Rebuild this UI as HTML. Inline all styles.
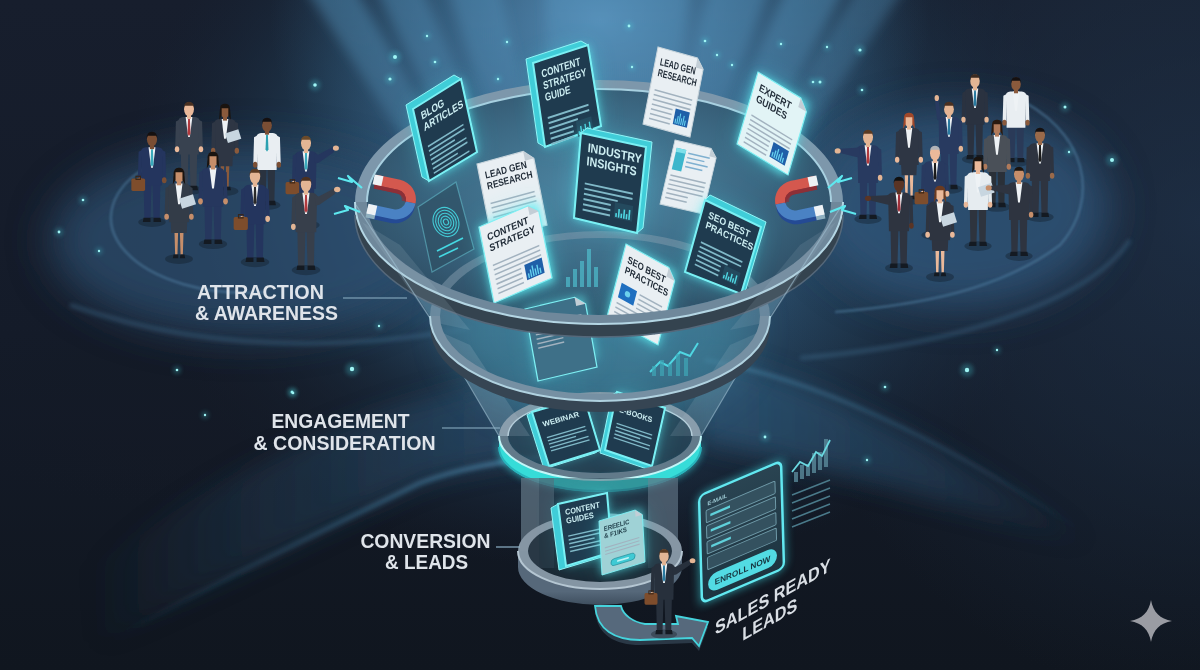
<!DOCTYPE html>
<html><head><meta charset="utf-8">
<style>
html,body{margin:0;padding:0;background:#141d2a;}
body{width:1200px;height:670px;overflow:hidden;position:relative;font-family:"Liberation Sans",sans-serif;}
svg{position:absolute;left:0;top:0;display:block;}
</style></head>
<body>
<svg width="1200" height="670" viewBox="0 0 1200 670" font-family="Liberation Sans">
<defs>
  <radialGradient id="bgGlow" cx="600" cy="190" r="560" gradientUnits="userSpaceOnUse" gradientTransform="translate(600 190) scale(1 0.8) translate(-600 -190)">
    <stop offset="0" stop-color="#437699"/>
    <stop offset="0.3" stop-color="#2e5474"/>
    <stop offset="0.55" stop-color="#1e354b"/>
    <stop offset="0.85" stop-color="#172334" stop-opacity="0"/>
  </radialGradient>
  <linearGradient id="bgBase" x1="0" y1="0" x2="0" y2="1">
    <stop offset="0" stop-color="#171e2d"/>
    <stop offset="0.5" stop-color="#141b29"/>
    <stop offset="1" stop-color="#10161f"/>
  </linearGradient>
  <radialGradient id="topGlow" cx="600" cy="20" r="330" gradientUnits="userSpaceOnUse" gradientTransform="translate(600 20) scale(1 0.75) translate(-600 -20)">
    <stop offset="0" stop-color="#5b95bf" stop-opacity="0.85"/>
    <stop offset="0.45" stop-color="#4a80a8" stop-opacity="0.5"/>
    <stop offset="1" stop-color="#3a6a90" stop-opacity="0"/>
  </radialGradient>
  <linearGradient id="rayG" x1="0" y1="0" x2="0" y2="1">
    <stop offset="0" stop-color="#5aa0cc" stop-opacity="0.6"/>
    <stop offset="0.6" stop-color="#5a8fb0" stop-opacity="0.25"/>
    <stop offset="1" stop-color="#5a8fb0" stop-opacity="0"/>
  </linearGradient>
  <radialGradient id="bowl" cx="0.5" cy="0.45" r="0.6">
    <stop offset="0" stop-color="#4f8aa6"/>
    <stop offset="0.55" stop-color="#3d6a84"/>
    <stop offset="1" stop-color="#2e4c62"/>
  </radialGradient>
  <linearGradient id="cone" x1="0" y1="0" x2="1" y2="0">
    <stop offset="0" stop-color="#7a8c9c" stop-opacity="0.55"/>
    <stop offset="0.2" stop-color="#3d5468" stop-opacity="0.35"/>
    <stop offset="0.8" stop-color="#3d5468" stop-opacity="0.35"/>
    <stop offset="1" stop-color="#7a8c9c" stop-opacity="0.55"/>
  </linearGradient>
  <filter id="blur30" x="-50%" y="-50%" width="200%" height="200%"><feGaussianBlur stdDeviation="30"/></filter>
  <filter id="blur20" x="-50%" y="-50%" width="200%" height="200%"><feGaussianBlur stdDeviation="20"/></filter>
  <filter id="blur12" x="-50%" y="-50%" width="200%" height="200%"><feGaussianBlur stdDeviation="12"/></filter>
  <filter id="blur8" x="-50%" y="-50%" width="200%" height="200%"><feGaussianBlur stdDeviation="6"/></filter>
  <filter id="blur4" x="-50%" y="-50%" width="200%" height="200%"><feGaussianBlur stdDeviation="4"/></filter>
  <filter id="blur2" x="-50%" y="-50%" width="200%" height="200%"><feGaussianBlur stdDeviation="2"/></filter>
  <filter id="blur1" x="-50%" y="-50%" width="200%" height="200%"><feGaussianBlur stdDeviation="1"/></filter>
  <linearGradient id="tealFace" x1="0" y1="0" x2="0" y2="1" gradientUnits="objectBoundingBox">
    <stop offset="0.8" stop-color="#4ae0e6"/>
    <stop offset="1" stop-color="#30b8c4"/>
  </linearGradient>
  <linearGradient id="grayFace" x1="0" y1="0" x2="0" y2="1">
    <stop offset="0.75" stop-color="#56687a"/>
    <stop offset="1" stop-color="#3e4e5e"/>
  </linearGradient>
  <linearGradient id="edgeG" x1="120" y1="0" x2="560" y2="0" gradientUnits="userSpaceOnUse">
    <stop offset="0" stop-color="#3b6c8c" stop-opacity="0"/>
    <stop offset="0.5" stop-color="#3b6c8c" stop-opacity="0.5"/>
    <stop offset="1" stop-color="#4a80a2" stop-opacity="0.9"/>
  </linearGradient>
  <linearGradient id="swG" x1="90" y1="0" x2="565" y2="0" gradientUnits="userSpaceOnUse">
    <stop offset="0" stop-color="#284a66" stop-opacity="0"/>
    <stop offset="0.4" stop-color="#284a66" stop-opacity="0.35"/>
    <stop offset="1" stop-color="#2c5272" stop-opacity="0.7"/>
  </linearGradient>
  <linearGradient id="formG" x1="0" y1="0" x2="0" y2="1">
    <stop offset="0" stop-color="#2a4452"/>
    <stop offset="1" stop-color="#1d3440"/>
  </linearGradient>
  <linearGradient id="coneG" x1="0" y1="0" x2="0" y2="1">
    <stop offset="0" stop-color="#4b7a96" stop-opacity="0.7"/>
    <stop offset="0.6" stop-color="#3a6a84" stop-opacity="0.6"/>
    <stop offset="1" stop-color="#2e5068" stop-opacity="0.55"/>
  </linearGradient>
  <linearGradient id="swR" x1="700" y1="0" x2="1095" y2="0" gradientUnits="userSpaceOnUse">
    <stop offset="0" stop-color="#2e5878" stop-opacity="0.75"/>
    <stop offset="0.6" stop-color="#2a5070" stop-opacity="0.45"/>
    <stop offset="1" stop-color="#284a66" stop-opacity="0"/>
  </linearGradient>
  <linearGradient id="edgeR" x1="705" y1="0" x2="1080" y2="0" gradientUnits="userSpaceOnUse">
    <stop offset="0" stop-color="#4a86a8" stop-opacity="0.8"/>
    <stop offset="0.7" stop-color="#3b6c8c" stop-opacity="0.4"/>
    <stop offset="1" stop-color="#3b6c8c" stop-opacity="0"/>
  </linearGradient>
  <radialGradient id="rightGlow" cx="1200" cy="220" r="480" gradientUnits="userSpaceOnUse" gradientTransform="translate(1200 220) scale(0.9 1) translate(-1200 -220)">
    <stop offset="0" stop-color="#223852" stop-opacity="0.6"/>
    <stop offset="0.5" stop-color="#1f3248" stop-opacity="0.4"/>
    <stop offset="1" stop-color="#1c2e44" stop-opacity="0"/>
  </radialGradient>
  <radialGradient id="darkG" cx="0.5" cy="0.5" r="0.5">
    <stop offset="0" stop-color="#141a26" stop-opacity="0.7"/>
    <stop offset="0.6" stop-color="#141a26" stop-opacity="0.4"/>
    <stop offset="1" stop-color="#141a26" stop-opacity="0"/>
  </radialGradient>
</defs>

<rect width="1200" height="670" fill="url(#bgBase)"/>
<rect width="1200" height="670" fill="url(#bgGlow)"/>
<rect width="1200" height="670" fill="url(#rightGlow)"/>
<rect width="1200" height="400" fill="url(#topGlow)"/>
<ellipse cx="230" cy="405" rx="300" ry="110" fill="url(#darkG)"/>
<g filter="url(#blur8)"><polygon points="300,-20 350,-20 608,430 592,430" fill="url(#rayG)" opacity="0.7"/><polygon points="372,-20 418,-20 608,430 592,430" fill="url(#rayG)" opacity="0.6"/><polygon points="445,-20 497,-20 608,430 592,430" fill="url(#rayG)" opacity="0.55"/><polygon points="545,-20 690,-20 645,430 555,430" fill="url(#rayG)" opacity="0.6"/><polygon points="712,-20 772,-20 608,430 592,430" fill="url(#rayG)" opacity="0.6"/><polygon points="790,-20 850,-20 608,430 592,430" fill="url(#rayG)" opacity="0.7"/><polygon points="862,-20 910,-20 608,430 592,430" fill="url(#rayG)" opacity="0.55"/></g>
<g filter="url(#blur20)"><ellipse cx="245" cy="240" rx="195" ry="95" fill="#2d5070" opacity="0.75"/><ellipse cx="960" cy="208" rx="150" ry="100" fill="#30557a" opacity="0.8"/></g>
<g fill="none" stroke="#5a8cb0" stroke-width="2.5" opacity="0.45" filter="url(#blur1)"><path d="M150 165 A135 75 0 0 0 265 292"/><path d="M1010 95 C1090 130 1100 200 1060 245 C1000 290 920 305 835 312"/></g>
<g fill="none" stroke="#4f82a6" stroke-width="4" opacity="0.35" filter="url(#blur2)"><path d="M70 305 Q250 368 470 328"/><path d="M1130 240 C1090 300 960 345 800 358"/></g>
<g filter="url(#blur12)" fill="none"></g>
<path d="M100 645 C220 580 330 527 420 483 C470 466 520 458 565 455 L565 370 C420 390 260 440 90 570 Z" fill="url(#swG)" filter="url(#blur12)"/>
<path d="M700 355 C800 375 920 430 1095 545 C1000 520 880 480 700 440 Z" fill="url(#swR)" filter="url(#blur12)"/>
<path d="M705 360 C810 378 930 432 1080 530" fill="none" stroke="url(#edgeR)" stroke-width="3" filter="url(#blur2)"/>
<path d="M110 640 C220 580 330 527 420 483 C460 468 500 461 560 455" fill="none" stroke="url(#edgeG)" stroke-width="5" filter="url(#blur2)"/>
<circle cx="395" cy="57" r="6" fill="#4fe0e8" opacity="0.25" filter="url(#blur2)"/><circle cx="395" cy="57" r="2" fill="#9ff5f5"/>
<circle cx="315" cy="85" r="5.4" fill="#4fe0e8" opacity="0.25" filter="url(#blur2)"/><circle cx="315" cy="85" r="1.8" fill="#9ff5f5"/>
<circle cx="390" cy="79" r="4.800000000000001" fill="#4fe0e8" opacity="0.25" filter="url(#blur2)"/><circle cx="390" cy="79" r="1.6" fill="#9ff5f5"/>
<circle cx="352" cy="369" r="6.6000000000000005" fill="#4fe0e8" opacity="0.25" filter="url(#blur2)"/><circle cx="352" cy="369" r="2.2" fill="#9ff5f5"/>
<circle cx="967" cy="370" r="6.6000000000000005" fill="#4fe0e8" opacity="0.25" filter="url(#blur2)"/><circle cx="967" cy="370" r="2.2" fill="#9ff5f5"/>
<circle cx="1112" cy="160" r="6" fill="#4fe0e8" opacity="0.25" filter="url(#blur2)"/><circle cx="1112" cy="160" r="2" fill="#9ff5f5"/>
<circle cx="1065" cy="107" r="4.5" fill="#4fe0e8" opacity="0.25" filter="url(#blur2)"/><circle cx="1065" cy="107" r="1.5" fill="#9ff5f5"/>
<circle cx="860" cy="50" r="4.800000000000001" fill="#4fe0e8" opacity="0.25" filter="url(#blur2)"/><circle cx="860" cy="50" r="1.6" fill="#9ff5f5"/>
<circle cx="820" cy="82" r="4.5" fill="#4fe0e8" opacity="0.25" filter="url(#blur2)"/><circle cx="820" cy="82" r="1.5" fill="#9ff5f5"/>
<circle cx="83" cy="200" r="3.9000000000000004" fill="#4fe0e8" opacity="0.25" filter="url(#blur2)"/><circle cx="83" cy="200" r="1.3" fill="#9ff5f5"/>
<circle cx="59" cy="232" r="4.199999999999999" fill="#4fe0e8" opacity="0.25" filter="url(#blur2)"/><circle cx="59" cy="232" r="1.4" fill="#9ff5f5"/>
<circle cx="99" cy="251" r="3.5999999999999996" fill="#4fe0e8" opacity="0.25" filter="url(#blur2)"/><circle cx="99" cy="251" r="1.2" fill="#9ff5f5"/>
<circle cx="139" cy="181" r="3.3000000000000003" fill="#4fe0e8" opacity="0.25" filter="url(#blur2)"/><circle cx="139" cy="181" r="1.1" fill="#9ff5f5"/>
<circle cx="427" cy="36" r="3.5999999999999996" fill="#4fe0e8" opacity="0.25" filter="url(#blur2)"/><circle cx="427" cy="36" r="1.2" fill="#9ff5f5"/>
<circle cx="435" cy="62" r="3.9000000000000004" fill="#4fe0e8" opacity="0.25" filter="url(#blur2)"/><circle cx="435" cy="62" r="1.3" fill="#9ff5f5"/>
<circle cx="507" cy="42" r="3.5999999999999996" fill="#4fe0e8" opacity="0.25" filter="url(#blur2)"/><circle cx="507" cy="42" r="1.2" fill="#9ff5f5"/>
<circle cx="498" cy="79" r="3.5999999999999996" fill="#4fe0e8" opacity="0.25" filter="url(#blur2)"/><circle cx="498" cy="79" r="1.2" fill="#9ff5f5"/>
<circle cx="629" cy="26" r="4.199999999999999" fill="#4fe0e8" opacity="0.25" filter="url(#blur2)"/><circle cx="629" cy="26" r="1.4" fill="#9ff5f5"/>
<circle cx="705" cy="41" r="3.9000000000000004" fill="#4fe0e8" opacity="0.25" filter="url(#blur2)"/><circle cx="705" cy="41" r="1.3" fill="#9ff5f5"/>
<circle cx="717" cy="55" r="3.5999999999999996" fill="#4fe0e8" opacity="0.25" filter="url(#blur2)"/><circle cx="717" cy="55" r="1.2" fill="#9ff5f5"/>
<circle cx="781" cy="44" r="3.5999999999999996" fill="#4fe0e8" opacity="0.25" filter="url(#blur2)"/><circle cx="781" cy="44" r="1.2" fill="#9ff5f5"/>
<circle cx="813" cy="82" r="3.9000000000000004" fill="#4fe0e8" opacity="0.25" filter="url(#blur2)"/><circle cx="813" cy="82" r="1.3" fill="#9ff5f5"/>
<circle cx="827" cy="47" r="3.5999999999999996" fill="#4fe0e8" opacity="0.25" filter="url(#blur2)"/><circle cx="827" cy="47" r="1.2" fill="#9ff5f5"/>
<circle cx="862" cy="90" r="3.9000000000000004" fill="#4fe0e8" opacity="0.25" filter="url(#blur2)"/><circle cx="862" cy="90" r="1.3" fill="#9ff5f5"/>
<circle cx="632" cy="67" r="3.5999999999999996" fill="#4fe0e8" opacity="0.25" filter="url(#blur2)"/><circle cx="632" cy="67" r="1.2" fill="#9ff5f5"/>
<circle cx="732" cy="65" r="3.5999999999999996" fill="#4fe0e8" opacity="0.25" filter="url(#blur2)"/><circle cx="732" cy="65" r="1.2" fill="#9ff5f5"/>
<circle cx="1069" cy="152" r="3.5999999999999996" fill="#4fe0e8" opacity="0.25" filter="url(#blur2)"/><circle cx="1069" cy="152" r="1.2" fill="#9ff5f5"/>
<circle cx="177" cy="370" r="3.9000000000000004" fill="#4fe0e8" opacity="0.25" filter="url(#blur2)"/><circle cx="177" cy="370" r="1.3" fill="#9ff5f5"/>
<circle cx="292" cy="392" r="4.5" fill="#4fe0e8" opacity="0.25" filter="url(#blur2)"/><circle cx="292" cy="392" r="1.5" fill="#9ff5f5"/>
<circle cx="205" cy="415" r="3.5999999999999996" fill="#4fe0e8" opacity="0.25" filter="url(#blur2)"/><circle cx="205" cy="415" r="1.2" fill="#9ff5f5"/>
<circle cx="885" cy="387" r="3.9000000000000004" fill="#4fe0e8" opacity="0.25" filter="url(#blur2)"/><circle cx="885" cy="387" r="1.3" fill="#9ff5f5"/>
<circle cx="997" cy="350" r="3.5999999999999996" fill="#4fe0e8" opacity="0.25" filter="url(#blur2)"/><circle cx="997" cy="350" r="1.2" fill="#9ff5f5"/>
<circle cx="765" cy="437" r="4.199999999999999" fill="#4fe0e8" opacity="0.25" filter="url(#blur2)"/><circle cx="765" cy="437" r="1.4" fill="#9ff5f5"/>
<circle cx="867" cy="460" r="3.5999999999999996" fill="#4fe0e8" opacity="0.25" filter="url(#blur2)"/><circle cx="867" cy="460" r="1.2" fill="#9ff5f5"/>
<circle cx="379" cy="326" r="3.5999999999999996" fill="#4fe0e8" opacity="0.25" filter="url(#blur2)"/><circle cx="379" cy="326" r="1.2" fill="#9ff5f5"/>
<circle cx="293" cy="393" r="3.9000000000000004" fill="#4fe0e8" opacity="0.25" filter="url(#blur2)"/><circle cx="293" cy="393" r="1.3" fill="#9ff5f5"/>
<path d="M355 202 L430 316 L499 436 A101 44 0 0 0 701 436 L770 316 L843 202 A244 122 0 0 1 355 202 Z" fill="url(#coneG)"/>
<ellipse cx="600" cy="330" rx="150" ry="90" fill="#4aa0b8" opacity="0.35" filter="url(#blur20)"/>
<ellipse cx="599" cy="202" rx="232" ry="113" fill="url(#bowl)" opacity="0.92"/>
<path d="M430 316 A170 85 0 0 1 770 316 L760 316 A160 78 0 0 0 440 316 Z" fill="#7f98aa" opacity="0.55"/>
<ellipse cx="600" cy="436" rx="92" ry="37" fill="#26404f" opacity="0.6"/>
<path d="M499 436 A101 44 0 0 1 701 436 L692 436 A92 37 0 0 0 508 436 Z" fill="#8397a6" />
<path d="M508 436 A92 37 0 0 1 692 436" fill="none" stroke="#b8d0dc" stroke-width="1.5" />
<path d="M355 202 A244 122 0 0 1 843 202 L831 202 A232 113 0 0 0 367 202 Z" fill="#7d97ab" />
<path d="M367 202 A232 113 0 0 1 831 202" fill="none" stroke="#a8d0e0" stroke-width="2" />
<polygon points="525.0,309.0 584.0,295.0 597.0,358.0 538.0,381.0" fill="#3fe0ea" opacity="0.25" filter="url(#blur12)"/><polygon points="525.0,309.0 584.0,295.0 597.0,358.0 538.0,381.0" fill="#5ff0f4" opacity="0.5" filter="url(#blur4)"/><g transform="matrix(0.5900 -0.1400 0.1000 0.5538 525.00 309.00)"><path d="M0 0 L84 0 L100 16 L100 130 L0 130 Z" fill="#3e7088" stroke="#7ff0f4" stroke-width="2"/><path d="M84 0 L84 16 L100 16 Z" fill="#c3ced6"/><rect x="10" y="32.0" width="80" height="2.6" fill="#a2b2bf"/><rect x="10" y="40.0" width="80" height="2.6" fill="#a2b2bf"/><rect x="10" y="48.0" width="80" height="2.6" fill="#a2b2bf"/><rect x="10" y="56.0" width="44" height="2.6" fill="#a2b2bf"/><rect x="10" y="64.0" width="44" height="2.6" fill="#a2b2bf"/><rect x="10" y="72.0" width="44" height="2.6" fill="#a2b2bf"/></g>
<polyline points="650,372 660,362 668,366 680,352 690,356 698,343" fill="none" stroke="#4fd6e2" stroke-width="2"/>
<rect x="652" y="366" width="4" height="10" fill="#3fa8b8" opacity="0.7"/><rect x="660" y="360" width="4" height="16" fill="#3fa8b8" opacity="0.7"/><rect x="668" y="364" width="4" height="12" fill="#3fa8b8" opacity="0.7"/><rect x="676" y="354" width="4" height="22" fill="#3fa8b8" opacity="0.7"/><rect x="684" y="358" width="4" height="18" fill="#3fa8b8" opacity="0.7"/>
<polygon points="532.0,412.0 584.0,397.0 600.0,450.0 549.0,466.0" fill="#3fe0ea" opacity="0.175" filter="url(#blur12)"/><polygon points="532.0,412.0 584.0,397.0 600.0,450.0 549.0,466.0" fill="#5ff0f4" opacity="0.35" filter="url(#blur4)"/><polygon points="527.0,415.0 532.0,412.0 584.0,397.0 600.0,450.0 595.0,453.0 544.0,469.0" fill="#40cdd8" stroke="#8ff4f6" stroke-width="1"/><polygon points="532.0,412.0 584.0,397.0 600.0,450.0 549.0,466.0" fill="#1f3b4f" stroke="#7af0f4" stroke-width="2"/><g transform="matrix(0.5200 -0.1500 0.1308 0.4154 532.00 412.00)"><text transform="translate(12 40.0) scale(0.86 1)" font-size="17" font-weight="bold" fill="#cdeef2" font-family="Liberation Sans">WEBINAR</text><rect x="12" y="64.4" width="74" height="3" fill="#80b9c8"/><rect x="12" y="72.4" width="74" height="3" fill="#80b9c8"/><rect x="12" y="80.4" width="52" height="3" fill="#80b9c8"/><rect x="12" y="88.4" width="74" height="3" fill="#80b9c8"/><rect x="12" y="96.4" width="74" height="3" fill="#80b9c8"/></g>
<polygon points="617.0,392.0 665.0,408.0 652.0,466.0 605.0,450.0" fill="#3fe0ea" opacity="0.3" filter="url(#blur12)"/><polygon points="617.0,392.0 665.0,408.0 652.0,466.0 605.0,450.0" fill="#5ff0f4" opacity="0.6" filter="url(#blur4)"/><polygon points="600.0,453.0 612.0,395.0 617.0,392.0 665.0,408.0 652.0,466.0 647.0,469.0" fill="#40cdd8" stroke="#8ff4f6" stroke-width="1"/><polygon points="617.0,392.0 665.0,408.0 652.0,466.0 605.0,450.0" fill="#1f3b4f" stroke="#7af0f4" stroke-width="2"/><g transform="matrix(0.4800 0.1600 -0.0923 0.4462 617.00 392.00)"><text transform="translate(12 40.0) scale(0.86 1)" font-size="17" font-weight="bold" fill="#cdeef2" font-family="Liberation Sans">E-BOOKS</text><rect x="12" y="64.4" width="74" height="3" fill="#80b9c8"/><rect x="12" y="72.4" width="74" height="3" fill="#80b9c8"/><rect x="12" y="80.4" width="52" height="3" fill="#80b9c8"/><rect x="12" y="88.4" width="74" height="3" fill="#80b9c8"/><rect x="12" y="96.4" width="74" height="3" fill="#80b9c8"/></g>
<g><rect x="566" y="277" width="4" height="10" fill="#4fb8c8" opacity="0.75"/><rect x="573" y="269" width="4" height="18" fill="#4fb8c8" opacity="0.75"/><rect x="580" y="261" width="4" height="26" fill="#4fb8c8" opacity="0.75"/><rect x="587" y="249" width="4" height="38" fill="#4fb8c8" opacity="0.75"/><rect x="594" y="267" width="4" height="20" fill="#4fb8c8" opacity="0.75"/></g>
<g><polygon points="418,207 456,182 474,249 432,272" fill="#2f5064" opacity="0.7" stroke="#5aa8b8" stroke-width="1.2"/><g fill="none" stroke="#45d8e2" stroke-width="1.1" opacity="0.9"><ellipse cx="446" cy="222" rx="2.5" ry="3.0" transform="rotate(-25 446 222)"/><ellipse cx="446" cy="222" rx="5" ry="6.0" transform="rotate(-25 446 222)"/><ellipse cx="446" cy="222" rx="7.5" ry="9.0" transform="rotate(-25 446 222)"/><ellipse cx="446" cy="222" rx="10" ry="12.0" transform="rotate(-25 446 222)"/><ellipse cx="446" cy="222" rx="12.5" ry="15.0" transform="rotate(-25 446 222)"/></g><g stroke="#45d8e2" stroke-width="1.6"><line x1="437" y1="251" x2="463" y2="238"/><line x1="439" y1="257" x2="458" y2="248"/></g></g>
<polygon points="413.0,109.0 461.0,79.0 477.0,152.0 429.0,181.0" fill="#3fe0ea" opacity="0.4" filter="url(#blur12)"/><polygon points="413.0,109.0 461.0,79.0 477.0,152.0 429.0,181.0" fill="#5ff0f4" opacity="0.8" filter="url(#blur4)"/><polygon points="406.0,105.0 454.0,75.0 461.0,79.0 477.0,152.0 429.0,181.0 422.0,177.0" fill="#40cdd8" stroke="#8ff4f6" stroke-width="1"/><polygon points="413.0,109.0 461.0,79.0 477.0,152.0 429.0,181.0" fill="#1f3b4f" stroke="#7af0f4" stroke-width="2"/><g transform="matrix(0.4800 -0.3000 0.1231 0.5538 413.00 109.00)"><text transform="translate(12 26.0) scale(0.86 1)" font-size="19" font-weight="bold" fill="#cdeef2" font-family="Liberation Sans">BLOG</text><text transform="translate(12 46.5) scale(0.86 1)" font-size="19" font-weight="bold" fill="#cdeef2" font-family="Liberation Sans">ARTICLES</text><rect x="12" y="73.0" width="74" height="3" fill="#80b9c8"/><rect x="12" y="81.0" width="74" height="3" fill="#80b9c8"/><rect x="12" y="89.0" width="52" height="3" fill="#80b9c8"/><rect x="12" y="97.0" width="74" height="3" fill="#80b9c8"/><rect x="12" y="105.0" width="74" height="3" fill="#80b9c8"/><rect x="12" y="113.0" width="52" height="3" fill="#80b9c8"/><rect x="12" y="121.0" width="74" height="3" fill="#80b9c8"/></g>
<polygon points="533.0,63.0 588.0,45.0 601.0,126.0 545.0,147.0" fill="#3fe0ea" opacity="0.4" filter="url(#blur12)"/><polygon points="533.0,63.0 588.0,45.0 601.0,126.0 545.0,147.0" fill="#5ff0f4" opacity="0.8" filter="url(#blur4)"/><polygon points="526.0,59.0 581.0,41.0 588.0,45.0 601.0,126.0 545.0,147.0 538.0,143.0" fill="#40cdd8" stroke="#8ff4f6" stroke-width="1"/><polygon points="533.0,63.0 588.0,45.0 601.0,126.0 545.0,147.0" fill="#1f3b4f" stroke="#7af0f4" stroke-width="2"/><g transform="matrix(0.5500 -0.1800 0.0923 0.6462 533.00 63.00)"><text transform="translate(12 26.0) scale(0.86 1)" font-size="17" font-weight="bold" fill="#cdeef2" font-family="Liberation Sans">CONTENT</text><text transform="translate(12 44.4) scale(0.86 1)" font-size="17" font-weight="bold" fill="#cdeef2" font-family="Liberation Sans">STRATEGY</text><text transform="translate(12 62.7) scale(0.86 1)" font-size="17" font-weight="bold" fill="#cdeef2" font-family="Liberation Sans">GUIDE</text><rect x="12" y="87.1" width="74" height="3" fill="#80b9c8"/><rect x="12" y="95.1" width="74" height="3" fill="#80b9c8"/><rect x="12" y="103.1" width="52" height="3" fill="#80b9c8"/><rect x="12" y="111.1" width="42" height="3" fill="#80b9c8"/><rect x="12" y="119.1" width="42" height="3" fill="#80b9c8"/><rect x="12" y="127.1" width="42" height="3" fill="#80b9c8"/><rect x="60" y="107.1" width="28" height="24" fill="#244a5e"/><rect x="62" y="123.1" width="2.4" height="6" fill="#4fd6e2"/><rect x="66" y="116.1" width="2.4" height="13" fill="#4fd6e2"/><rect x="70" y="122.1" width="2.4" height="7" fill="#4fd6e2"/><rect x="74" y="115.1" width="2.4" height="14" fill="#4fd6e2"/><rect x="78" y="121.1" width="2.4" height="8" fill="#4fd6e2"/><rect x="82" y="114.1" width="2.4" height="15" fill="#4fd6e2"/></g>
<g transform="matrix(0.4700 0.1300 -0.1154 0.5923 658.00 47.00)"><path d="M0 0 L84 0 L100 16 L100 130 L0 130 Z" fill="#e9eff3" stroke="#c9d5dc" stroke-width="2"/><path d="M84 0 L84 16 L100 16 Z" fill="#c3ced6"/><text transform="translate(10 28.0) scale(0.86 1)" font-size="17" font-weight="bold" fill="#1f2a36" font-family="Liberation Sans">LEAD GEN</text><text transform="translate(10 46.4) scale(0.86 1)" font-size="17" font-weight="bold" fill="#1f2a36" font-family="Liberation Sans">RESEARCH</text><rect x="10" y="68.7" width="80" height="2.6" fill="#a2b2bf"/><rect x="10" y="76.7" width="80" height="2.6" fill="#a2b2bf"/><rect x="10" y="84.7" width="80" height="2.6" fill="#a2b2bf"/><rect x="10" y="92.7" width="44" height="2.6" fill="#a2b2bf"/><rect x="10" y="100.7" width="44" height="2.6" fill="#a2b2bf"/><rect x="10" y="108.7" width="44" height="2.6" fill="#a2b2bf"/><rect x="10" y="116.7" width="44" height="2.6" fill="#a2b2bf"/><rect x="60" y="90.7" width="30" height="26" fill="#1f5fa8"/><rect x="63" y="106.7" width="2.2" height="8" fill="#67d3f0"/><rect x="67" y="101.7" width="2.2" height="13" fill="#67d3f0"/><rect x="71" y="96.7" width="2.2" height="18" fill="#67d3f0"/><rect x="75" y="103.7" width="2.2" height="11" fill="#67d3f0"/><rect x="79" y="98.7" width="2.2" height="16" fill="#67d3f0"/><rect x="83" y="105.7" width="2.2" height="9" fill="#67d3f0"/></g>
<polygon points="758.0,72.0 809.0,103.0 785.0,177.0 737.0,144.0" fill="#3fe0ea" opacity="0.4" filter="url(#blur12)"/><polygon points="758.0,72.0 809.0,103.0 785.0,177.0 737.0,144.0" fill="#5ff0f4" opacity="0.8" filter="url(#blur4)"/><g transform="matrix(0.5100 0.3100 -0.1615 0.5538 758.00 72.00)"><path d="M0 0 L84 0 L100 16 L100 130 L0 130 Z" fill="#e2f4f6" stroke="#7ff0f4" stroke-width="2"/><path d="M84 0 L84 16 L100 16 Z" fill="#c3ced6"/><text transform="translate(10 28.0) scale(0.86 1)" font-size="18" font-weight="bold" fill="#1f2a36" font-family="Liberation Sans">EXPERT</text><text transform="translate(10 47.4) scale(0.86 1)" font-size="18" font-weight="bold" fill="#1f2a36" font-family="Liberation Sans">GUIDES</text><rect x="10" y="70.9" width="80" height="2.6" fill="#a2b2bf"/><rect x="10" y="78.9" width="80" height="2.6" fill="#a2b2bf"/><rect x="10" y="86.9" width="80" height="2.6" fill="#a2b2bf"/><rect x="10" y="94.9" width="44" height="2.6" fill="#a2b2bf"/><rect x="10" y="102.9" width="44" height="2.6" fill="#a2b2bf"/><rect x="10" y="110.9" width="44" height="2.6" fill="#a2b2bf"/><rect x="10" y="118.9" width="44" height="2.6" fill="#a2b2bf"/><rect x="60" y="92.9" width="30" height="26" fill="#1f5fa8"/><rect x="63" y="108.9" width="2.2" height="8" fill="#67d3f0"/><rect x="67" y="103.9" width="2.2" height="13" fill="#67d3f0"/><rect x="71" y="98.9" width="2.2" height="18" fill="#67d3f0"/><rect x="75" y="105.9" width="2.2" height="11" fill="#67d3f0"/><rect x="79" y="100.9" width="2.2" height="16" fill="#67d3f0"/><rect x="83" y="107.9" width="2.2" height="9" fill="#67d3f0"/></g>
<g transform="matrix(0.4300 0.1000 -0.1154 0.4923 675.00 140.00)"><path d="M0 0 L84 0 L100 16 L100 130 L0 130 Z" fill="#e9eff3" stroke="#c9d5dc" stroke-width="2"/><path d="M84 0 L84 16 L100 16 Z" fill="#c3ced6"/></g>
<g transform="matrix(0.4300 0.1000 -0.1154 0.4923 675.00 140.00)"><rect x="8" y="14" width="22" height="44" fill="#3cb6cc"/><rect x="8" y="14" width="22" height="8" fill="#7fe0ea"/><rect x="36" y="18" width="50" height="3" fill="#7fb0d0"/><rect x="36" y="27" width="40" height="3" fill="#7fb0d0"/><rect x="36" y="36" width="50" height="3" fill="#7fb0d0"/><rect x="36" y="45" width="40" height="3" fill="#7fb0d0"/><rect x="8" y="68" width="82" height="3" fill="#a2b2bf"/><rect x="8" y="77" width="82" height="3" fill="#a2b2bf"/><rect x="8" y="86" width="82" height="3" fill="#a2b2bf"/><rect x="8" y="95" width="82" height="3" fill="#a2b2bf"/><rect x="8" y="104" width="50" height="3" fill="#a2b2bf"/><rect x="8" y="113" width="50" height="3" fill="#a2b2bf"/></g>
<polygon points="581.0,133.0 646.0,147.0 637.0,233.0 574.0,218.0" fill="#3fe0ea" opacity="0.4" filter="url(#blur12)"/><polygon points="581.0,133.0 646.0,147.0 637.0,233.0 574.0,218.0" fill="#5ff0f4" opacity="0.8" filter="url(#blur4)"/><polygon points="574.0,218.0 581.0,133.0 587.0,128.0 652.0,142.0 643.0,228.0 637.0,233.0" fill="#40cdd8" stroke="#8ff4f6" stroke-width="1"/><polygon points="581.0,133.0 646.0,147.0 637.0,233.0 574.0,218.0" fill="#1f3b4f" stroke="#7af0f4" stroke-width="2"/><g transform="matrix(0.6500 0.1400 -0.0538 0.6538 581.00 133.00)"><text transform="translate(12 26.0) scale(0.86 1)" font-size="19" font-weight="bold" fill="#cdeef2" font-family="Liberation Sans">INDUSTRY</text><text transform="translate(12 46.5) scale(0.86 1)" font-size="19" font-weight="bold" fill="#cdeef2" font-family="Liberation Sans">INSIGHTS</text><rect x="12" y="73.0" width="74" height="3" fill="#80b9c8"/><rect x="12" y="81.0" width="74" height="3" fill="#80b9c8"/><rect x="12" y="89.0" width="52" height="3" fill="#80b9c8"/><rect x="12" y="97.0" width="42" height="3" fill="#80b9c8"/><rect x="12" y="105.0" width="42" height="3" fill="#80b9c8"/><rect x="12" y="113.0" width="42" height="3" fill="#80b9c8"/><rect x="60" y="93.0" width="28" height="24" fill="#244a5e"/><rect x="62" y="109.0" width="2.4" height="6" fill="#4fd6e2"/><rect x="66" y="102.0" width="2.4" height="13" fill="#4fd6e2"/><rect x="70" y="108.0" width="2.4" height="7" fill="#4fd6e2"/><rect x="74" y="101.0" width="2.4" height="14" fill="#4fd6e2"/><rect x="78" y="107.0" width="2.4" height="8" fill="#4fd6e2"/><rect x="82" y="100.0" width="2.4" height="15" fill="#4fd6e2"/></g>
<g transform="matrix(0.5500 -0.1500 0.1154 0.5846 477.00 164.00)"><path d="M0 0 L84 0 L100 16 L100 130 L0 130 Z" fill="#e9eff3" stroke="#c9d5dc" stroke-width="2"/><path d="M84 0 L84 16 L100 16 Z" fill="#c3ced6"/><text transform="translate(10 28.0) scale(0.86 1)" font-size="17" font-weight="bold" fill="#1f2a36" font-family="Liberation Sans">LEAD GEN</text><text transform="translate(10 46.4) scale(0.86 1)" font-size="17" font-weight="bold" fill="#1f2a36" font-family="Liberation Sans">RESEARCH</text><rect x="10" y="68.7" width="80" height="2.6" fill="#a2b2bf"/><rect x="10" y="76.7" width="80" height="2.6" fill="#a2b2bf"/><rect x="10" y="84.7" width="80" height="2.6" fill="#a2b2bf"/><rect x="10" y="92.7" width="44" height="2.6" fill="#a2b2bf"/><rect x="10" y="100.7" width="44" height="2.6" fill="#a2b2bf"/><rect x="10" y="108.7" width="44" height="2.6" fill="#a2b2bf"/><rect x="10" y="116.7" width="44" height="2.6" fill="#a2b2bf"/></g>
<polygon points="705.0,200.0 761.0,227.0 741.0,294.0 685.0,272.0" fill="#3fe0ea" opacity="0.4" filter="url(#blur12)"/><polygon points="705.0,200.0 761.0,227.0 741.0,294.0 685.0,272.0" fill="#5ff0f4" opacity="0.8" filter="url(#blur4)"/><polygon points="685.0,272.0 705.0,200.0 710.0,195.0 766.0,222.0 746.0,289.0 741.0,294.0" fill="#40cdd8" stroke="#8ff4f6" stroke-width="1"/><polygon points="705.0,200.0 761.0,227.0 741.0,294.0 685.0,272.0" fill="#1f3b4f" stroke="#7af0f4" stroke-width="2"/><g transform="matrix(0.5600 0.2700 -0.1538 0.5538 705.00 200.00)"><text transform="translate(12 26.0) scale(0.86 1)" font-size="17" font-weight="bold" fill="#cdeef2" font-family="Liberation Sans">SEO BEST</text><text transform="translate(12 44.4) scale(0.86 1)" font-size="17" font-weight="bold" fill="#cdeef2" font-family="Liberation Sans">PRACTICES</text><rect x="12" y="68.7" width="74" height="3" fill="#80b9c8"/><rect x="12" y="76.7" width="74" height="3" fill="#80b9c8"/><rect x="12" y="84.7" width="52" height="3" fill="#80b9c8"/><rect x="12" y="92.7" width="42" height="3" fill="#80b9c8"/><rect x="12" y="100.7" width="42" height="3" fill="#80b9c8"/><rect x="12" y="108.7" width="42" height="3" fill="#80b9c8"/><rect x="60" y="88.7" width="28" height="24" fill="#244a5e"/><rect x="62" y="104.7" width="2.4" height="6" fill="#4fd6e2"/><rect x="66" y="97.7" width="2.4" height="13" fill="#4fd6e2"/><rect x="70" y="103.7" width="2.4" height="7" fill="#4fd6e2"/><rect x="74" y="96.7" width="2.4" height="14" fill="#4fd6e2"/><rect x="78" y="102.7" width="2.4" height="8" fill="#4fd6e2"/><rect x="82" y="95.7" width="2.4" height="15" fill="#4fd6e2"/></g>
<polygon points="479.0,227.0 537.0,202.0 555.0,281.0 494.0,303.0" fill="#3fe0ea" opacity="0.4" filter="url(#blur12)"/><polygon points="479.0,227.0 537.0,202.0 555.0,281.0 494.0,303.0" fill="#5ff0f4" opacity="0.8" filter="url(#blur4)"/><g transform="matrix(0.5800 -0.2500 0.1154 0.5846 479.00 227.00)"><path d="M0 0 L84 0 L100 16 L100 130 L0 130 Z" fill="#e9eff3" stroke="#7ff0f4" stroke-width="2"/><path d="M84 0 L84 16 L100 16 Z" fill="#c3ced6"/><text transform="translate(10 28.0) scale(0.86 1)" font-size="17" font-weight="bold" fill="#1f2a36" font-family="Liberation Sans">CONTENT</text><text transform="translate(10 46.4) scale(0.86 1)" font-size="17" font-weight="bold" fill="#1f2a36" font-family="Liberation Sans">STRATEGY</text><rect x="10" y="68.7" width="80" height="2.6" fill="#a2b2bf"/><rect x="10" y="76.7" width="80" height="2.6" fill="#a2b2bf"/><rect x="10" y="84.7" width="80" height="2.6" fill="#a2b2bf"/><rect x="10" y="92.7" width="44" height="2.6" fill="#a2b2bf"/><rect x="10" y="100.7" width="44" height="2.6" fill="#a2b2bf"/><rect x="10" y="108.7" width="44" height="2.6" fill="#a2b2bf"/><rect x="10" y="116.7" width="44" height="2.6" fill="#a2b2bf"/><rect x="60" y="90.7" width="30" height="26" fill="#1f5fa8"/><rect x="63" y="106.7" width="2.2" height="8" fill="#67d3f0"/><rect x="67" y="101.7" width="2.2" height="13" fill="#67d3f0"/><rect x="71" y="96.7" width="2.2" height="18" fill="#67d3f0"/><rect x="75" y="103.7" width="2.2" height="11" fill="#67d3f0"/><rect x="79" y="98.7" width="2.2" height="16" fill="#67d3f0"/><rect x="83" y="105.7" width="2.2" height="9" fill="#67d3f0"/></g>
<polygon points="626.0,244.0 677.0,272.0 658.0,348.0 607.0,317.0" fill="#3fe0ea" opacity="0.35" filter="url(#blur12)"/><polygon points="626.0,244.0 677.0,272.0 658.0,348.0 607.0,317.0" fill="#5ff0f4" opacity="0.7" filter="url(#blur4)"/><g transform="matrix(0.5100 0.2800 -0.1462 0.5615 626.00 244.00)"><path d="M0 0 L84 0 L100 16 L100 130 L0 130 Z" fill="#e9eff3" stroke="#7ff0f4" stroke-width="2"/><path d="M84 0 L84 16 L100 16 Z" fill="#c3ced6"/><text transform="translate(10 28.0) scale(0.86 1)" font-size="17" font-weight="bold" fill="#1f2a36" font-family="Liberation Sans">SEO BEST</text><text transform="translate(10 46.4) scale(0.86 1)" font-size="17" font-weight="bold" fill="#1f2a36" font-family="Liberation Sans">PRACTICES</text></g>
<g transform="matrix(0.5100 0.2800 -0.1462 0.5615 626.00 244.00)"><rect x="10" y="64" width="30" height="26" fill="#1f6fc0"/><circle cx="25" cy="77" r="5" fill="#7fe8f8" opacity="0.8"/><rect x="46" y="66" width="44" height="2.6" fill="#a2b2bf"/><rect x="46" y="74" width="44" height="2.6" fill="#a2b2bf"/><rect x="46" y="82" width="44" height="2.6" fill="#a2b2bf"/><rect x="46" y="90" width="44" height="2.6" fill="#a2b2bf"/><rect x="10" y="98" width="80" height="2.6" fill="#a2b2bf"/><rect x="10" y="106" width="80" height="2.6" fill="#a2b2bf"/><rect x="10" y="114" width="80" height="2.6" fill="#a2b2bf"/></g>
<path d="M355 202 A244 122 0 0 0 843 202 L843 215 A244 122 0 0 1 355 215 Z" fill="#34434f" />
<path d="M355 202 A244 122 0 0 0 843 202 L831 202 A232 113 0 0 1 367 202 Z" fill="#6f889b" />
<path d="M355 202 A244 122 0 0 0 843 202" fill="none" stroke="#b4d6e4" stroke-width="2" />
<path d="M355 215 A244 122 0 0 0 843 215" fill="none" stroke="#55687a" stroke-width="1.5" />
<path d="M362 222 L432 322 L470 330 L400 245 Z" fill="#a9c0cf" opacity="0.16"/>
<path d="M836 222 L768 322 L730 330 L800 245 Z" fill="#a9c0cf" opacity="0.14"/>
<path d="M436 330 L499 436 L530 436 L470 345 Z" fill="#a9c0cf" opacity="0.2"/>
<path d="M764 330 L701 436 L670 436 L730 345 Z" fill="#a9c0cf" opacity="0.16"/>
<g stroke="#9fc0d2" stroke-width="1.2" opacity="0.6"><line x1="356" y1="205" x2="430" y2="318"/><line x1="842" y1="205" x2="770" y2="318"/><line x1="432" y1="322" x2="499" y2="436"/><line x1="768" y1="322" x2="701" y2="436"/></g>
<path d="M430 316 A170 85 0 0 0 770 316 L770 327 A170 85 0 0 1 430 327 Z" fill="#364553" />
<path d="M430 316 A170 85 0 0 0 770 316 L760 316 A160 78 0 0 1 440 316 Z" fill="#7690a3" />
<path d="M430 316 A170 85 0 0 0 770 316" fill="none" stroke="#b0d2e0" stroke-width="2" />
<path d="M499 436 A101 44 0 0 0 701 436 L701 448 A101 44 0 0 1 499 448 Z" fill="#38d0da" filter="url(#blur4)" opacity="0.9"/>
<path d="M499 436 A101 44 0 0 0 701 436 L701 448 A101 44 0 0 1 499 448 Z" fill="#36dcd8" />
<path d="M499 447 A101 44 0 0 0 701 447" fill="none" stroke="#28b4bc" stroke-width="2" />
<path d="M499 436 A101 44 0 0 0 701 436 L692 436 A92 37 0 0 1 508 436 Z" fill="#627a8a" />
<path d="M499 436 A101 44 0 0 0 701 436" fill="none" stroke="#c2f6f8" stroke-width="2" />
<rect x="521" y="478" width="157" height="90" fill="#2d4152" opacity="0.45"/>
<rect x="521" y="478" width="18" height="90" fill="#718594" opacity="0.55"/>
<rect x="539" y="478" width="15" height="90" fill="#56697a" opacity="0.55"/>
<rect x="648" y="478" width="30" height="90" fill="#6f8393" opacity="0.5"/>
<ellipse cx="600" cy="551" rx="72" ry="31" fill="#1e2d3a" opacity="0.75"/>
<path d="M518 551 A82 38 0 0 1 682 551 L672 551 A72 31 0 0 0 528 551 Z" fill="#8696a4" />
<polygon points="558.0,504.0 607.0,493.0 612.0,552.0 566.0,566.0" fill="#3fe0ea" opacity="0.3" filter="url(#blur12)"/><polygon points="558.0,504.0 607.0,493.0 612.0,552.0 566.0,566.0" fill="#5ff0f4" opacity="0.6" filter="url(#blur4)"/><polygon points="551.0,508.0 558.0,504.0 607.0,493.0 612.0,552.0 605.0,556.0 559.0,570.0" fill="#40cdd8" stroke="#8ff4f6" stroke-width="1"/><polygon points="558.0,504.0 607.0,493.0 612.0,552.0 566.0,566.0" fill="#1f3b4f" stroke="#7af0f4" stroke-width="2"/><g transform="matrix(0.4900 -0.1100 0.0615 0.4769 558.00 504.00)"><text transform="translate(12 26.0) scale(0.86 1)" font-size="17" font-weight="bold" fill="#cdeef2" font-family="Liberation Sans">CONTENT</text><text transform="translate(12 44.4) scale(0.86 1)" font-size="17" font-weight="bold" fill="#cdeef2" font-family="Liberation Sans">GUIDES</text><rect x="12" y="68.7" width="74" height="3" fill="#80b9c8"/><rect x="12" y="76.7" width="74" height="3" fill="#80b9c8"/><rect x="12" y="84.7" width="52" height="3" fill="#80b9c8"/><rect x="12" y="92.7" width="74" height="3" fill="#80b9c8"/><rect x="12" y="100.7" width="74" height="3" fill="#80b9c8"/></g>
<polygon points="599.0,521.0 642.0,508.0 645.0,561.0 602.0,575.0" fill="#3fe0ea" opacity="0.35" filter="url(#blur12)"/><polygon points="599.0,521.0 642.0,508.0 645.0,561.0 602.0,575.0" fill="#5ff0f4" opacity="0.7" filter="url(#blur4)"/><g transform="matrix(0.4300 -0.1300 0.0231 0.4154 599.00 521.00)"><path d="M0 0 L84 0 L100 16 L100 130 L0 130 Z" fill="#9fd2d6" stroke="#7ff0f4" stroke-width="2"/><path d="M84 0 L84 16 L100 16 Z" fill="#c3ced6"/><text transform="translate(10 28.0) scale(0.86 1)" font-size="16" font-weight="bold" fill="#1d3a46" font-family="Liberation Sans">EREELIC</text><text transform="translate(10 45.3) scale(0.86 1)" font-size="16" font-weight="bold" fill="#1d3a46" font-family="Liberation Sans">& F1IKS</text><rect x="10" y="66.6" width="80" height="2.6" fill="#a2b2bf"/><rect x="10" y="74.6" width="80" height="2.6" fill="#a2b2bf"/><rect x="10" y="82.6" width="80" height="2.6" fill="#a2b2bf"/></g>
<g transform="matrix(0.4300 -0.1300 0.0231 0.4154 599.00 521.00)"><rect x="22" y="100" width="56" height="16" rx="8" fill="#3fcad4" stroke="#1f8a96" stroke-width="1.5"/><rect x="36" y="106" width="28" height="4" rx="2" fill="#bff4f6"/></g>
<path d="M518 551 A82 38 0 0 0 682 551 L682 567 A82 38 0 0 1 518 567 Z" fill="url(#grayFace)" />
<path d="M518 551 A82 38 0 0 0 682 551 L672 551 A72 31 0 0 1 528 551 Z" fill="#8495a3" />
<path d="M518 551 A82 38 0 0 0 682 551" fill="none" stroke="#b5c6d2" stroke-width="2" />
<g transform="translate(394 199) rotate(12)"><g transform="translate(0 4)"><path d="M-22 -20 L2 -20 A20 20 0 0 1 22 0 L12 0 A10 10 0 0 0 2 -10 L-22 -10 Z" fill="#8a2e36"/><path d="M-22 10 L2 10 A10 10 0 0 0 12 0 L22 0 A20 20 0 0 1 2 20 L-22 20 Z" fill="#244a94"/><rect x="-24" y="10" width="9" height="10" fill="#8fb0c0"/></g><path d="M-22 -20 L2 -20 A20 20 0 0 1 22 0 L12 0 A10 10 0 0 0 2 -10 L-22 -10 Z" fill="#d4584e"/><path d="M-22 10 L2 10 A10 10 0 0 0 12 0 L22 0 A20 20 0 0 1 2 20 L-22 20 Z" fill="#4a82c4"/><path d="M-22 -10 L2 -10 A10 10 0 0 1 12 0 L8 0 A6 7 0 0 0 2 -6 L-22 -6 Z" fill="#8e3038" opacity="0.7"/><rect x="-24" y="-20" width="9" height="10" fill="#eef2f5"/><rect x="-24" y="10" width="9" height="10" fill="#eef2f5"/></g>
<g transform="translate(797 200) scale(-1 1) rotate(12)"><g transform="translate(0 4)"><path d="M-22 -20 L2 -20 A20 20 0 0 1 22 0 L12 0 A10 10 0 0 0 2 -10 L-22 -10 Z" fill="#8a2e36"/><path d="M-22 10 L2 10 A10 10 0 0 0 12 0 L22 0 A20 20 0 0 1 2 20 L-22 20 Z" fill="#244a94"/><rect x="-24" y="10" width="9" height="10" fill="#8fb0c0"/></g><path d="M-22 -20 L2 -20 A20 20 0 0 1 22 0 L12 0 A10 10 0 0 0 2 -10 L-22 -10 Z" fill="#d4584e"/><path d="M-22 10 L2 10 A10 10 0 0 0 12 0 L22 0 A20 20 0 0 1 2 20 L-22 20 Z" fill="#4a82c4"/><path d="M-22 -10 L2 -10 A10 10 0 0 1 12 0 L8 0 A6 7 0 0 0 2 -6 L-22 -6 Z" fill="#8e3038" opacity="0.7"/><rect x="-24" y="-20" width="9" height="10" fill="#eef2f5"/><rect x="-24" y="10" width="9" height="10" fill="#eef2f5"/></g>
<g fill="none" stroke="#5ee8ef" stroke-width="2.2" stroke-linejoin="round"><polyline points="338,178 352,182 348,176 362,188"/><polyline points="334,214 348,210 345,206 360,212"/><polyline points="852,178 838,182 842,176 828,188"/><polyline points="856,214 842,210 845,206 830,212"/></g>
<g transform="translate(189.0 104.0) scale(0.748 0.870)"><ellipse cx="0" cy="99" rx="18" ry="5.5" fill="#0d1620" opacity="0.35"/><path d="M-11 52 L-0.5 52 L-2 95 L-10 95 Z M0.5 52 L11 52 L10 95 L2 95 Z" fill="#384250"/><path d="M-11 94 L-2 94 L-2 99 L-12 99 Z M2 94 L11 94 L12 99 L2 99 Z" fill="#141a22"/><path d="M-14 19 Q-14 16 -8 15 L8 15 Q14 16 14 19 L13 58 L-13 58 Z" fill="#384250"/><path d="M-4.5 15 L4.5 15 L1.2 38 L-1.2 38 Z" fill="#eef2f5"/><path d="M-1.2 17 L1.2 17 L2 34 L0 37 L-2 34 Z" fill="#b23a3e"/><path d="M-13 18 L-17.5 20 L-18.5 50 L-13.5 50 Z" fill="#384250"/><path d="M13 18 L17.5 20 L18.5 50 L13.5 50 Z" fill="#384250"/><ellipse cx="-16" cy="52" rx="3" ry="3.4" fill="#eab99a"/><ellipse cx="16" cy="52" rx="3" ry="3.4" fill="#eab99a"/><rect x="-2.8" y="11" width="5.6" height="6" fill="#eab99a"/><ellipse cx="0" cy="6" rx="6.6" ry="8" fill="#eab99a"/><path d="M-6.8 5 Q-7 -2.5 0 -2.5 Q7 -2.5 6.8 5 L5.6 2 L-5.6 2 Z" fill="#4a3020"/></g>
<g transform="translate(225.0 106.0) scale(0.740 0.860)"><ellipse cx="0" cy="99" rx="18" ry="5.5" fill="#0d1620" opacity="0.35"/><path d="M-6 64 L-5 94 L-2 94 L-1 64 Z M1 64 L2 94 L5 94 L6 64 Z" fill="#8a5a3c"/><path d="M-11 52 L11 52 L10 70 L-10 70 Z" fill="#2e3644"/><path d="M-7 94 L-1 94 L-1 98 L-8 98 Z M2 94 L7 94 L8 98 L1 98 Z" fill="#141a22"/><path d="M-14 19 Q-14 16 -8 15 L8 15 Q14 16 14 19 L13 58 L-13 58 Z" fill="#2e3644"/><path d="M-4.5 15 L4.5 15 L1.2 38 L-1.2 38 Z" fill="#eef2f5"/><path d="M-13 18 L-17.5 20 L-18.5 50 L-13.5 50 Z" fill="#2e3644"/><path d="M13 18 L17.5 20 L18.5 50 L13.5 50 Z" fill="#2e3644"/><ellipse cx="-16" cy="52" rx="3" ry="3.4" fill="#8a5a3c"/><ellipse cx="16" cy="52" rx="3" ry="3.4" fill="#8a5a3c"/><path d="M0 32 L18 27 L22 38 L4 43 Z" fill="#c8d6e0"/><rect x="-2.8" y="11" width="5.6" height="6" fill="#8a5a3c"/><ellipse cx="0" cy="6" rx="6.6" ry="8" fill="#8a5a3c"/><path d="M-7 5 Q-7 -3 0 -2.5 Q7 -3 7 5 L8 16 L4.5 11 L4.5 2.5 L-4.5 2.5 L-4.5 11 L-8 16 Z" fill="#1a1410"/></g>
<g transform="translate(267.0 120.0) scale(0.740 0.860)"><ellipse cx="0" cy="99" rx="18" ry="5.5" fill="#0d1620" opacity="0.35"/><path d="M-11 52 L-0.5 52 L-2 95 L-10 95 Z M0.5 52 L11 52 L10 95 L2 95 Z" fill="#2a3340"/><path d="M-11 94 L-2 94 L-2 99 L-12 99 Z M2 94 L11 94 L12 99 L2 99 Z" fill="#141a22"/><path d="M-14 19 Q-14 16 -8 15 L8 15 Q14 16 14 19 L13 58 L-13 58 Z" fill="#e9eef2"/><path d="M-4.5 15 L4.5 15 L1.2 38 L-1.2 38 Z" fill="#eef2f5"/><path d="M-1.2 17 L1.2 17 L2 34 L0 37 L-2 34 Z" fill="#2aa0b0"/><path d="M-13 18 L-17.5 20 L-18.5 50 L-13.5 50 Z" fill="#e9eef2"/><path d="M13 18 L17.5 20 L18.5 50 L13.5 50 Z" fill="#e9eef2"/><ellipse cx="-16" cy="52" rx="3" ry="3.4" fill="#7a4e34"/><ellipse cx="16" cy="52" rx="3" ry="3.4" fill="#7a4e34"/><rect x="-2.8" y="11" width="5.6" height="6" fill="#7a4e34"/><ellipse cx="0" cy="6" rx="6.6" ry="8" fill="#7a4e34"/><path d="M-6.8 5 Q-7 -2.5 0 -2.5 Q7 -2.5 6.8 5 L5.6 2 L-5.6 2 Z" fill="#151010"/></g>
<g transform="translate(152.0 134.0) scale(0.765 0.890)"><ellipse cx="0" cy="99" rx="18" ry="5.5" fill="#0d1620" opacity="0.35"/><path d="M-11 52 L-0.5 52 L-2 95 L-10 95 Z M0.5 52 L11 52 L10 95 L2 95 Z" fill="#24355e"/><path d="M-11 94 L-2 94 L-2 99 L-12 99 Z M2 94 L11 94 L12 99 L2 99 Z" fill="#141a22"/><path d="M-14 19 Q-14 16 -8 15 L8 15 Q14 16 14 19 L13 58 L-13 58 Z" fill="#24355e"/><path d="M-4.5 15 L4.5 15 L1.2 38 L-1.2 38 Z" fill="#eef2f5"/><path d="M-1.2 17 L1.2 17 L2 34 L0 37 L-2 34 Z" fill="#3aaabc"/><path d="M-13 18 L-17.5 20 L-18.5 50 L-13.5 50 Z" fill="#24355e"/><path d="M13 18 L17.5 20 L18.5 50 L13.5 50 Z" fill="#24355e"/><ellipse cx="-16" cy="52" rx="3" ry="3.4" fill="#7a4e34"/><ellipse cx="16" cy="52" rx="3" ry="3.4" fill="#7a4e34"/><rect x="-27" y="50" width="18" height="14" rx="2" fill="#7e4d2c"/><rect x="-21" y="47.5" width="6" height="3.5" fill="none" stroke="#3a2414" stroke-width="1.2"/><rect x="-2.8" y="11" width="5.6" height="6" fill="#7a4e34"/><ellipse cx="0" cy="6" rx="6.6" ry="8" fill="#7a4e34"/><path d="M-6.8 5 Q-7 -2.5 0 -2.5 Q7 -2.5 6.8 5 L5.6 2 L-5.6 2 Z" fill="#151010"/></g>
<g transform="translate(306.0 138.0) scale(0.757 0.880)"><ellipse cx="0" cy="99" rx="18" ry="5.5" fill="#0d1620" opacity="0.35"/><path d="M-11 52 L-0.5 52 L-2 95 L-10 95 Z M0.5 52 L11 52 L10 95 L2 95 Z" fill="#25365e"/><path d="M-11 94 L-2 94 L-2 99 L-12 99 Z M2 94 L11 94 L12 99 L2 99 Z" fill="#141a22"/><path d="M-14 19 Q-14 16 -8 15 L8 15 Q14 16 14 19 L13 58 L-13 58 Z" fill="#25365e"/><path d="M-4.5 15 L4.5 15 L1.2 38 L-1.2 38 Z" fill="#eef2f5"/><path d="M-1.2 17 L1.2 17 L2 34 L0 37 L-2 34 Z" fill="#3aaabc"/><path d="M11 17 L16 19 L36 10 L37 16 L17 28 L12 29 Z" fill="#25365e"/><ellipse cx="39.5" cy="11.5" rx="4" ry="3" fill="#e3b594"/><path d="M-13 18 L-17.5 20 L-18.5 50 L-13.5 50 Z" fill="#25365e"/><ellipse cx="-16" cy="52" rx="3" ry="3.4" fill="#e3b594"/><rect x="-27" y="50" width="18" height="14" rx="2" fill="#7e4d2c"/><rect x="-21" y="47.5" width="6" height="3.5" fill="none" stroke="#3a2414" stroke-width="1.2"/><rect x="-2.8" y="11" width="5.6" height="6" fill="#e3b594"/><ellipse cx="0" cy="6" rx="6.6" ry="8" fill="#e3b594"/><path d="M-6.8 5 Q-7 -2.5 0 -2.5 Q7 -2.5 6.8 5 L5.6 2 L-5.6 2 Z" fill="#6a4a2a"/></g>
<g transform="translate(213.0 154.0) scale(0.783 0.910)"><ellipse cx="0" cy="99" rx="18" ry="5.5" fill="#0d1620" opacity="0.35"/><path d="M-11 52 L-0.5 52 L-2 95 L-10 95 Z M0.5 52 L11 52 L10 95 L2 95 Z" fill="#26375e"/><path d="M-11 94 L-2 94 L-2 99 L-12 99 Z M2 94 L11 94 L12 99 L2 99 Z" fill="#141a22"/><path d="M-14 19 Q-14 16 -8 15 L8 15 Q14 16 14 19 L13 58 L-13 58 Z" fill="#26375e"/><path d="M-4.5 15 L4.5 15 L1.2 38 L-1.2 38 Z" fill="#eef2f5"/><path d="M-13 18 L-17.5 20 L-18.5 50 L-13.5 50 Z" fill="#26375e"/><path d="M13 18 L17.5 20 L18.5 50 L13.5 50 Z" fill="#26375e"/><ellipse cx="-16" cy="52" rx="3" ry="3.4" fill="#c68e6a"/><ellipse cx="16" cy="52" rx="3" ry="3.4" fill="#c68e6a"/><rect x="-2.8" y="11" width="5.6" height="6" fill="#c68e6a"/><ellipse cx="0" cy="6" rx="6.6" ry="8" fill="#c68e6a"/><path d="M-7 5 Q-7 -3 0 -2.5 Q7 -3 7 5 L8 16 L4.5 11 L4.5 2.5 L-4.5 2.5 L-4.5 11 L-8 16 Z" fill="#1a1410"/></g>
<g transform="translate(179.0 170.0) scale(0.774 0.900)"><ellipse cx="0" cy="99" rx="18" ry="5.5" fill="#0d1620" opacity="0.35"/><path d="M-6 64 L-5 94 L-2 94 L-1 64 Z M1 64 L2 94 L5 94 L6 64 Z" fill="#c68e6a"/><path d="M-11 52 L11 52 L10 70 L-10 70 Z" fill="#333c48"/><path d="M-7 94 L-1 94 L-1 98 L-8 98 Z M2 94 L7 94 L8 98 L1 98 Z" fill="#141a22"/><path d="M-14 19 Q-14 16 -8 15 L8 15 Q14 16 14 19 L13 58 L-13 58 Z" fill="#333c48"/><path d="M-4.5 15 L4.5 15 L1.2 38 L-1.2 38 Z" fill="#eef2f5"/><path d="M-13 18 L-17.5 20 L-18.5 50 L-13.5 50 Z" fill="#333c48"/><path d="M13 18 L17.5 20 L18.5 50 L13.5 50 Z" fill="#333c48"/><ellipse cx="-16" cy="52" rx="3" ry="3.4" fill="#c68e6a"/><ellipse cx="16" cy="52" rx="3" ry="3.4" fill="#c68e6a"/><path d="M0 32 L18 27 L22 38 L4 43 Z" fill="#c8d6e0"/><rect x="-2.8" y="11" width="5.6" height="6" fill="#c68e6a"/><ellipse cx="0" cy="6" rx="6.6" ry="8" fill="#c68e6a"/><path d="M-7 5 Q-7 -3 0 -2.5 Q7 -3 7 5 L8 16 L4.5 11 L4.5 2.5 L-4.5 2.5 L-4.5 11 L-8 16 Z" fill="#1a1410"/></g>
<g transform="translate(255.0 171.0) scale(0.791 0.920)"><ellipse cx="0" cy="99" rx="18" ry="5.5" fill="#0d1620" opacity="0.35"/><path d="M-11 52 L-0.5 52 L-2 95 L-10 95 Z M0.5 52 L11 52 L10 95 L2 95 Z" fill="#24355e"/><path d="M-11 94 L-2 94 L-2 99 L-12 99 Z M2 94 L11 94 L12 99 L2 99 Z" fill="#141a22"/><path d="M-14 19 Q-14 16 -8 15 L8 15 Q14 16 14 19 L13 58 L-13 58 Z" fill="#24355e"/><path d="M-4.5 15 L4.5 15 L1.2 38 L-1.2 38 Z" fill="#eef2f5"/><path d="M-1.2 17 L1.2 17 L2 34 L0 37 L-2 34 Z" fill="#2a2a2a"/><path d="M-13 18 L-17.5 20 L-18.5 50 L-13.5 50 Z" fill="#24355e"/><path d="M13 18 L17.5 20 L18.5 50 L13.5 50 Z" fill="#24355e"/><ellipse cx="-16" cy="52" rx="3" ry="3.4" fill="#e3b594"/><ellipse cx="16" cy="52" rx="3" ry="3.4" fill="#e3b594"/><rect x="-27" y="50" width="18" height="14" rx="2" fill="#7e4d2c"/><rect x="-21" y="47.5" width="6" height="3.5" fill="none" stroke="#3a2414" stroke-width="1.2"/><rect x="-2.8" y="11" width="5.6" height="6" fill="#e3b594"/><ellipse cx="0" cy="6" rx="6.6" ry="8" fill="#e3b594"/><path d="M-6.8 5 Q-7 -2.5 0 -2.5 Q7 -2.5 6.8 5 L5.6 2 L-5.6 2 Z" fill="#5a3a22"/></g>
<g transform="translate(306.0 179.0) scale(0.791 0.920)"><ellipse cx="0" cy="99" rx="18" ry="5.5" fill="#0d1620" opacity="0.35"/><path d="M-11 52 L-0.5 52 L-2 95 L-10 95 Z M0.5 52 L11 52 L10 95 L2 95 Z" fill="#373f4b"/><path d="M-11 94 L-2 94 L-2 99 L-12 99 Z M2 94 L11 94 L12 99 L2 99 Z" fill="#141a22"/><path d="M-14 19 Q-14 16 -8 15 L8 15 Q14 16 14 19 L13 58 L-13 58 Z" fill="#373f4b"/><path d="M-4.5 15 L4.5 15 L1.2 38 L-1.2 38 Z" fill="#eef2f5"/><path d="M-1.2 17 L1.2 17 L2 34 L0 37 L-2 34 Z" fill="#b23a3e"/><path d="M11 17 L16 19 L36 10 L37 16 L17 28 L12 29 Z" fill="#373f4b"/><ellipse cx="39.5" cy="11.5" rx="4" ry="3" fill="#e3b594"/><path d="M-13 18 L-17.5 20 L-18.5 50 L-13.5 50 Z" fill="#373f4b"/><ellipse cx="-16" cy="52" rx="3" ry="3.4" fill="#e3b594"/><rect x="-2.8" y="11" width="5.6" height="6" fill="#e3b594"/><ellipse cx="0" cy="6" rx="6.6" ry="8" fill="#e3b594"/><path d="M-6.8 5 Q-7 -2.5 0 -2.5 Q7 -2.5 6.8 5 L5.6 2 L-5.6 2 Z" fill="#4a3020"/></g>
<g transform="translate(975.0 76.0) scale(0.722 0.840)"><ellipse cx="0" cy="99" rx="18" ry="5.5" fill="#0d1620" opacity="0.35"/><path d="M-11 52 L-0.5 52 L-2 95 L-10 95 Z M0.5 52 L11 52 L10 95 L2 95 Z" fill="#2a3240"/><path d="M-11 94 L-2 94 L-2 99 L-12 99 Z M2 94 L11 94 L12 99 L2 99 Z" fill="#141a22"/><path d="M-14 19 Q-14 16 -8 15 L8 15 Q14 16 14 19 L13 58 L-13 58 Z" fill="#2a3240"/><path d="M-4.5 15 L4.5 15 L1.2 38 L-1.2 38 Z" fill="#eef2f5"/><path d="M-1.2 17 L1.2 17 L2 34 L0 37 L-2 34 Z" fill="#2a7aa0"/><path d="M-13 18 L-17.5 20 L-18.5 50 L-13.5 50 Z" fill="#2a3240"/><path d="M13 18 L17.5 20 L18.5 50 L13.5 50 Z" fill="#2a3240"/><ellipse cx="-16" cy="52" rx="3" ry="3.4" fill="#e3b594"/><ellipse cx="16" cy="52" rx="3" ry="3.4" fill="#e3b594"/><rect x="-2.8" y="11" width="5.6" height="6" fill="#e3b594"/><ellipse cx="0" cy="6" rx="6.6" ry="8" fill="#e3b594"/><path d="M-6.8 5 Q-7 -2.5 0 -2.5 Q7 -2.5 6.8 5 L5.6 2 L-5.6 2 Z" fill="#3a2a20"/></g>
<g transform="translate(1016.0 79.0) scale(0.722 0.840)"><ellipse cx="0" cy="99" rx="18" ry="5.5" fill="#0d1620" opacity="0.35"/><path d="M-11 52 L-0.5 52 L-2 95 L-10 95 Z M0.5 52 L11 52 L10 95 L2 95 Z" fill="#2a3a58"/><path d="M-11 94 L-2 94 L-2 99 L-12 99 Z M2 94 L11 94 L12 99 L2 99 Z" fill="#141a22"/><path d="M-14 19 Q-14 16 -8 15 L8 15 Q14 16 14 19 L13 58 L-13 58 Z" fill="#e9eef2"/><path d="M-4.5 15 L4.5 15 L1.2 38 L-1.2 38 Z" fill="#eef2f5"/><path d="M-13 18 L-17.5 20 L-18.5 50 L-13.5 50 Z" fill="#e9eef2"/><path d="M13 18 L17.5 20 L18.5 50 L13.5 50 Z" fill="#e9eef2"/><ellipse cx="-16" cy="52" rx="3" ry="3.4" fill="#8a5a3c"/><ellipse cx="16" cy="52" rx="3" ry="3.4" fill="#8a5a3c"/><rect x="-2.8" y="11" width="5.6" height="6" fill="#8a5a3c"/><ellipse cx="0" cy="6" rx="6.6" ry="8" fill="#8a5a3c"/><path d="M-6.8 5 Q-7 -2.5 0 -2.5 Q7 -2.5 6.8 5 L5.6 2 L-5.6 2 Z" fill="#151010"/></g>
<g transform="translate(949.0 104.0) scale(0.740 0.860)"><ellipse cx="0" cy="99" rx="18" ry="5.5" fill="#0d1620" opacity="0.35"/><path d="M-11 52 L-0.5 52 L-2 95 L-10 95 Z M0.5 52 L11 52 L10 95 L2 95 Z" fill="#283a60"/><path d="M-11 94 L-2 94 L-2 99 L-12 99 Z M2 94 L11 94 L12 99 L2 99 Z" fill="#141a22"/><path d="M-14 19 Q-14 16 -8 15 L8 15 Q14 16 14 19 L13 58 L-13 58 Z" fill="#283a60"/><path d="M-4.5 15 L4.5 15 L1.2 38 L-1.2 38 Z" fill="#eef2f5"/><path d="M-1.2 17 L1.2 17 L2 34 L0 37 L-2 34 Z" fill="#2a7aa0"/><path d="M-11 17 L-16 19 L-19 -4 L-14 -5 Z" fill="#283a60"/><ellipse cx="-16.5" cy="-7" rx="3" ry="3.6" fill="#e3b594"/><path d="M13 18 L17.5 20 L18.5 50 L13.5 50 Z" fill="#283a60"/><ellipse cx="16" cy="52" rx="3" ry="3.4" fill="#e3b594"/><rect x="-2.8" y="11" width="5.6" height="6" fill="#e3b594"/><ellipse cx="0" cy="6" rx="6.6" ry="8" fill="#e3b594"/><path d="M-6.8 5 Q-7 -2.5 0 -2.5 Q7 -2.5 6.8 5 L5.6 2 L-5.6 2 Z" fill="#4a3020"/></g>
<g transform="translate(909.0 115.0) scale(0.740 0.860)"><ellipse cx="0" cy="99" rx="18" ry="5.5" fill="#0d1620" opacity="0.35"/><path d="M-6 64 L-5 94 L-2 94 L-1 64 Z M1 64 L2 94 L5 94 L6 64 Z" fill="#eab99a"/><path d="M-11 52 L11 52 L10 70 L-10 70 Z" fill="#2e3644"/><path d="M-7 94 L-1 94 L-1 98 L-8 98 Z M2 94 L7 94 L8 98 L1 98 Z" fill="#141a22"/><path d="M-14 19 Q-14 16 -8 15 L8 15 Q14 16 14 19 L13 58 L-13 58 Z" fill="#2e3644"/><path d="M-4.5 15 L4.5 15 L1.2 38 L-1.2 38 Z" fill="#eef2f5"/><path d="M-13 18 L-17.5 20 L-18.5 50 L-13.5 50 Z" fill="#2e3644"/><path d="M13 18 L17.5 20 L18.5 50 L13.5 50 Z" fill="#2e3644"/><ellipse cx="-16" cy="52" rx="3" ry="3.4" fill="#eab99a"/><ellipse cx="16" cy="52" rx="3" ry="3.4" fill="#eab99a"/><rect x="-2.8" y="11" width="5.6" height="6" fill="#eab99a"/><ellipse cx="0" cy="6" rx="6.6" ry="8" fill="#eab99a"/><path d="M-7 5 Q-7 -3 0 -2.5 Q7 -3 7 5 L8 16 L4.5 11 L4.5 2.5 L-4.5 2.5 L-4.5 11 L-8 16 Z" fill="#a0482a"/></g>
<g transform="translate(997.0 122.0) scale(0.740 0.860)"><ellipse cx="0" cy="99" rx="18" ry="5.5" fill="#0d1620" opacity="0.35"/><path d="M-11 52 L-0.5 52 L-2 95 L-10 95 Z M0.5 52 L11 52 L10 95 L2 95 Z" fill="#2a3038"/><path d="M-11 94 L-2 94 L-2 99 L-12 99 Z M2 94 L11 94 L12 99 L2 99 Z" fill="#141a22"/><path d="M-14 19 Q-14 16 -8 15 L8 15 Q14 16 14 19 L13 58 L-13 58 Z" fill="#4a5058"/><path d="M-4.5 15 L4.5 15 L1.2 38 L-1.2 38 Z" fill="#eef2f5"/><path d="M-13 18 L-17.5 20 L-18.5 50 L-13.5 50 Z" fill="#4a5058"/><path d="M13 18 L17.5 20 L18.5 50 L13.5 50 Z" fill="#4a5058"/><ellipse cx="-16" cy="52" rx="3" ry="3.4" fill="#b07a5a"/><ellipse cx="16" cy="52" rx="3" ry="3.4" fill="#b07a5a"/><rect x="-2.8" y="11" width="5.6" height="6" fill="#b07a5a"/><ellipse cx="0" cy="6" rx="6.6" ry="8" fill="#b07a5a"/><path d="M-7 5 Q-7 -3 0 -2.5 Q7 -3 7 5 L8 16 L4.5 11 L4.5 2.5 L-4.5 2.5 L-4.5 11 L-8 16 Z" fill="#2a1a10"/></g>
<g transform="translate(1040.0 130.0) scale(0.757 0.880)"><ellipse cx="0" cy="99" rx="18" ry="5.5" fill="#0d1620" opacity="0.35"/><path d="M-11 52 L-0.5 52 L-2 95 L-10 95 Z M0.5 52 L11 52 L10 95 L2 95 Z" fill="#2e3440"/><path d="M-11 94 L-2 94 L-2 99 L-12 99 Z M2 94 L11 94 L12 99 L2 99 Z" fill="#141a22"/><path d="M-14 19 Q-14 16 -8 15 L8 15 Q14 16 14 19 L13 58 L-13 58 Z" fill="#2e3440"/><path d="M-4.5 15 L4.5 15 L1.2 38 L-1.2 38 Z" fill="#eef2f5"/><path d="M-1.2 17 L1.2 17 L2 34 L0 37 L-2 34 Z" fill="#1a1a1a"/><path d="M-13 18 L-17.5 20 L-18.5 50 L-13.5 50 Z" fill="#2e3440"/><path d="M13 18 L17.5 20 L18.5 50 L13.5 50 Z" fill="#2e3440"/><ellipse cx="-16" cy="52" rx="3" ry="3.4" fill="#9a6a4a"/><ellipse cx="16" cy="52" rx="3" ry="3.4" fill="#9a6a4a"/><rect x="-2.8" y="11" width="5.6" height="6" fill="#9a6a4a"/><ellipse cx="0" cy="6" rx="6.6" ry="8" fill="#9a6a4a"/><path d="M-6.8 5 Q-7 -2.5 0 -2.5 Q7 -2.5 6.8 5 L5.6 2 L-5.6 2 Z" fill="#151010"/></g>
<g transform="translate(868.0 132.0) scale(0.757 0.880)"><ellipse cx="0" cy="99" rx="18" ry="5.5" fill="#0d1620" opacity="0.35"/><path d="M-11 52 L-0.5 52 L-2 95 L-10 95 Z M0.5 52 L11 52 L10 95 L2 95 Z" fill="#283a60"/><path d="M-11 94 L-2 94 L-2 99 L-12 99 Z M2 94 L11 94 L12 99 L2 99 Z" fill="#141a22"/><path d="M-14 19 Q-14 16 -8 15 L8 15 Q14 16 14 19 L13 58 L-13 58 Z" fill="#283a60"/><path d="M-4.5 15 L4.5 15 L1.2 38 L-1.2 38 Z" fill="#eef2f5"/><path d="M-1.2 17 L1.2 17 L2 34 L0 37 L-2 34 Z" fill="#b23a3e"/><path d="M-11 17 L-16 18 L-37 19 L-37 24 L-17 28 L-12 29 Z" fill="#283a60"/><ellipse cx="-40" cy="21.5" rx="4" ry="3" fill="#e3b594"/><path d="M13 18 L17.5 20 L18.5 50 L13.5 50 Z" fill="#283a60"/><ellipse cx="16" cy="52" rx="3" ry="3.4" fill="#e3b594"/><rect x="-2.8" y="11" width="5.6" height="6" fill="#e3b594"/><ellipse cx="0" cy="6" rx="6.6" ry="8" fill="#e3b594"/><path d="M-6.8 5 Q-7 -2.5 0 -2.5 Q7 -2.5 6.8 5 L5.6 2 L-5.6 2 Z" fill="#5a3a22"/></g>
<g transform="translate(935.0 148.0) scale(0.757 0.880)"><ellipse cx="0" cy="99" rx="18" ry="5.5" fill="#0d1620" opacity="0.35"/><path d="M-11 52 L-0.5 52 L-2 95 L-10 95 Z M0.5 52 L11 52 L10 95 L2 95 Z" fill="#283a60"/><path d="M-11 94 L-2 94 L-2 99 L-12 99 Z M2 94 L11 94 L12 99 L2 99 Z" fill="#141a22"/><path d="M-14 19 Q-14 16 -8 15 L8 15 Q14 16 14 19 L13 58 L-13 58 Z" fill="#283a60"/><path d="M-4.5 15 L4.5 15 L1.2 38 L-1.2 38 Z" fill="#eef2f5"/><path d="M-1.2 17 L1.2 17 L2 34 L0 37 L-2 34 Z" fill="#1a1a1a"/><path d="M-13 18 L-17.5 20 L-18.5 50 L-13.5 50 Z" fill="#283a60"/><path d="M13 18 L17.5 20 L18.5 50 L13.5 50 Z" fill="#283a60"/><ellipse cx="-16" cy="52" rx="3" ry="3.4" fill="#eab99a"/><ellipse cx="16" cy="52" rx="3" ry="3.4" fill="#eab99a"/><rect x="-27" y="50" width="18" height="14" rx="2" fill="#7e4d2c"/><rect x="-21" y="47.5" width="6" height="3.5" fill="none" stroke="#3a2414" stroke-width="1.2"/><rect x="-2.8" y="11" width="5.6" height="6" fill="#eab99a"/><ellipse cx="0" cy="6" rx="6.6" ry="8" fill="#eab99a"/><path d="M-6.8 5 Q-7 -2.5 0 -2.5 Q7 -2.5 6.8 5 L5.6 2 L-5.6 2 Z" fill="#b0b4b8"/></g>
<g transform="translate(978.0 159.0) scale(0.757 0.880)"><ellipse cx="0" cy="99" rx="18" ry="5.5" fill="#0d1620" opacity="0.35"/><path d="M-11 52 L-0.5 52 L-2 95 L-10 95 Z M0.5 52 L11 52 L10 95 L2 95 Z" fill="#2e343e"/><path d="M-11 94 L-2 94 L-2 99 L-12 99 Z M2 94 L11 94 L12 99 L2 99 Z" fill="#141a22"/><path d="M-14 19 Q-14 16 -8 15 L8 15 Q14 16 14 19 L13 58 L-13 58 Z" fill="#e6ecf0"/><path d="M-4.5 15 L4.5 15 L1.2 38 L-1.2 38 Z" fill="#eef2f5"/><path d="M-13 18 L-17.5 20 L-18.5 50 L-13.5 50 Z" fill="#e6ecf0"/><path d="M13 18 L17.5 20 L18.5 50 L13.5 50 Z" fill="#e6ecf0"/><ellipse cx="-16" cy="52" rx="3" ry="3.4" fill="#eab99a"/><ellipse cx="16" cy="52" rx="3" ry="3.4" fill="#eab99a"/><path d="M0 32 L18 27 L22 38 L4 43 Z" fill="#c8d6e0"/><rect x="-2.8" y="11" width="5.6" height="6" fill="#eab99a"/><ellipse cx="0" cy="6" rx="6.6" ry="8" fill="#eab99a"/><path d="M-7 5 Q-7 -3 0 -2.5 Q7 -3 7 5 L8 16 L4.5 11 L4.5 2.5 L-4.5 2.5 L-4.5 11 L-8 16 Z" fill="#1a1410"/></g>
<g transform="translate(1019.0 169.0) scale(0.757 0.880)"><ellipse cx="0" cy="99" rx="18" ry="5.5" fill="#0d1620" opacity="0.35"/><path d="M-11 52 L-0.5 52 L-2 95 L-10 95 Z M0.5 52 L11 52 L10 95 L2 95 Z" fill="#2e3440"/><path d="M-11 94 L-2 94 L-2 99 L-12 99 Z M2 94 L11 94 L12 99 L2 99 Z" fill="#141a22"/><path d="M-14 19 Q-14 16 -8 15 L8 15 Q14 16 14 19 L13 58 L-13 58 Z" fill="#2e3440"/><path d="M-4.5 15 L4.5 15 L1.2 38 L-1.2 38 Z" fill="#eef2f5"/><path d="M-11 17 L-16 18 L-37 19 L-37 24 L-17 28 L-12 29 Z" fill="#2e3440"/><ellipse cx="-40" cy="21.5" rx="4" ry="3" fill="#c68e6a"/><path d="M13 18 L17.5 20 L18.5 50 L13.5 50 Z" fill="#2e3440"/><ellipse cx="16" cy="52" rx="3" ry="3.4" fill="#c68e6a"/><rect x="-2.8" y="11" width="5.6" height="6" fill="#c68e6a"/><ellipse cx="0" cy="6" rx="6.6" ry="8" fill="#c68e6a"/><path d="M-6.8 5 Q-7 -2.5 0 -2.5 Q7 -2.5 6.8 5 L5.6 2 L-5.6 2 Z" fill="#1a1410"/></g>
<g transform="translate(899.0 179.0) scale(0.774 0.900)"><ellipse cx="0" cy="99" rx="18" ry="5.5" fill="#0d1620" opacity="0.35"/><path d="M-11 52 L-0.5 52 L-2 95 L-10 95 Z M0.5 52 L11 52 L10 95 L2 95 Z" fill="#2e3440"/><path d="M-11 94 L-2 94 L-2 99 L-12 99 Z M2 94 L11 94 L12 99 L2 99 Z" fill="#141a22"/><path d="M-14 19 Q-14 16 -8 15 L8 15 Q14 16 14 19 L13 58 L-13 58 Z" fill="#2e3440"/><path d="M-4.5 15 L4.5 15 L1.2 38 L-1.2 38 Z" fill="#eef2f5"/><path d="M-1.2 17 L1.2 17 L2 34 L0 37 L-2 34 Z" fill="#a0303a"/><path d="M-11 17 L-16 18 L-37 19 L-37 24 L-17 28 L-12 29 Z" fill="#2e3440"/><ellipse cx="-40" cy="21.5" rx="4" ry="3" fill="#5a3424"/><path d="M13 18 L17.5 20 L18.5 50 L13.5 50 Z" fill="#2e3440"/><ellipse cx="16" cy="52" rx="3" ry="3.4" fill="#5a3424"/><rect x="-2.8" y="11" width="5.6" height="6" fill="#5a3424"/><ellipse cx="0" cy="6" rx="6.6" ry="8" fill="#5a3424"/><path d="M-6.8 5 Q-7 -2.5 0 -2.5 Q7 -2.5 6.8 5 L5.6 2 L-5.6 2 Z" fill="#101010"/></g>
<g transform="translate(940.0 188.0) scale(0.774 0.900)"><ellipse cx="0" cy="99" rx="18" ry="5.5" fill="#0d1620" opacity="0.35"/><path d="M-6 64 L-5 94 L-2 94 L-1 64 Z M1 64 L2 94 L5 94 L6 64 Z" fill="#eab99a"/><path d="M-11 52 L11 52 L10 70 L-10 70 Z" fill="#2e3440"/><path d="M-7 94 L-1 94 L-1 98 L-8 98 Z M2 94 L7 94 L8 98 L1 98 Z" fill="#141a22"/><path d="M-14 19 Q-14 16 -8 15 L8 15 Q14 16 14 19 L13 58 L-13 58 Z" fill="#2e3440"/><path d="M-4.5 15 L4.5 15 L1.2 38 L-1.2 38 Z" fill="#eef2f5"/><path d="M-13 18 L-17.5 20 L-18.5 50 L-13.5 50 Z" fill="#2e3440"/><path d="M13 18 L17.5 20 L18.5 50 L13.5 50 Z" fill="#2e3440"/><ellipse cx="-16" cy="52" rx="3" ry="3.4" fill="#eab99a"/><ellipse cx="16" cy="52" rx="3" ry="3.4" fill="#eab99a"/><path d="M0 32 L18 27 L22 38 L4 43 Z" fill="#c8d6e0"/><rect x="-2.8" y="11" width="5.6" height="6" fill="#eab99a"/><ellipse cx="0" cy="6" rx="6.6" ry="8" fill="#eab99a"/><path d="M-7 5 Q-7 -3 0 -2.5 Q7 -3 7 5 L8 16 L4.5 11 L4.5 2.5 L-4.5 2.5 L-4.5 11 L-8 16 Z" fill="#6a3a20"/></g>
<path d="M595 606 C597 630 615 640 640 640 L692 638 L699 646 L708 622 L676 616 L678 624 L645 624 C633 622 623 615 621 606 Z" fill="#2a3846" transform="translate(0 5)"/>
<path d="M595 606 C597 630 615 640 640 640 L692 638 L699 646 L708 622 L676 616 L678 624 L645 624 C633 622 623 615 621 606 Z" fill="#56697c" stroke="#45d3dc" stroke-width="1.8"/>
<g transform="matrix(0.8200 -0.3500 0.0231 0.8231 699.00 496.00)"><rect x="-2" y="-2" width="104" height="134" rx="8" fill="#3fe0ea" opacity="0.6" filter="url(#blur8)"/></g>
<g transform="matrix(0.8200 -0.3500 0.0231 0.8231 699.00 496.00)"><rect x="0" y="0" width="100" height="130" rx="7" fill="url(#formG)" stroke="#62e8f0" stroke-width="3"/><text x="10" y="16" font-size="7" font-weight="bold" fill="#9cc8d2">E-MAIL</text><rect x="8" y="21" width="84" height="15" rx="1.5" fill="#34515f" stroke="#6f9aa8" stroke-width="1.2"/><rect x="13" y="27" width="24" height="3" fill="#5fd0da"/><rect x="8" y="40" width="84" height="15" rx="1.5" fill="#34515f" stroke="#6f9aa8" stroke-width="1.2"/><rect x="13" y="46" width="24" height="3" fill="#5fd0da"/><rect x="8" y="59" width="84" height="15" rx="1.5" fill="#34515f" stroke="#6f9aa8" stroke-width="1.2"/><rect x="13" y="65" width="24" height="3" fill="#5fd0da"/><rect x="8" y="78" width="84" height="15" rx="1.5" fill="#34515f" stroke="#6f9aa8" stroke-width="1.2"/><rect x="8" y="100" width="84" height="22" rx="11" fill="#52dbe3"/><text x="50" y="115" text-anchor="middle" font-size="10" font-weight="bold" fill="#173640">ENROLL NOW</text></g>
<g><rect x="794" y="472" width="4" height="10" fill="#5a8a9a" opacity="0.8"/><rect x="800" y="465" width="4" height="14" fill="#5a8a9a" opacity="0.8"/><rect x="806" y="464" width="4" height="12" fill="#5a8a9a" opacity="0.8"/><rect x="812" y="453" width="4" height="20" fill="#5a8a9a" opacity="0.8"/><rect x="818" y="452" width="4" height="18" fill="#5a8a9a" opacity="0.8"/><rect x="824" y="439" width="4" height="28" fill="#5a8a9a" opacity="0.8"/><polyline points="792,472 800,462 808,466 816,452 822,456 830,440" fill="none" stroke="#6ad8e0" stroke-width="1.8"/><line x1="792" y1="495" x2="830" y2="480" stroke="#4a7a8a" stroke-width="1.5"/><line x1="792" y1="503" x2="830" y2="488" stroke="#4a7a8a" stroke-width="1.5"/><line x1="792" y1="511" x2="830" y2="496" stroke="#4a7a8a" stroke-width="1.5"/><line x1="792" y1="519" x2="830" y2="504" stroke="#4a7a8a" stroke-width="1.5"/><line x1="792" y1="527" x2="830" y2="512" stroke="#4a7a8a" stroke-width="1.5"/></g>
<g transform="translate(715 635) skewY(-29) scale(0.88 1)" font-weight="bold" fill="#d9dee4" font-size="18.5"><text x="0" y="0">SALES READY</text><text x="31" y="21">LEADS</text></g>
<g transform="translate(664.0 551.0) scale(0.722 0.840)"><ellipse cx="0" cy="99" rx="18" ry="5.5" fill="#0d1620" opacity="0.35"/><path d="M-11 52 L-0.5 52 L-2 95 L-10 95 Z M0.5 52 L11 52 L10 95 L2 95 Z" fill="#27303c"/><path d="M-11 94 L-2 94 L-2 99 L-12 99 Z M2 94 L11 94 L12 99 L2 99 Z" fill="#141a22"/><path d="M-14 19 Q-14 16 -8 15 L8 15 Q14 16 14 19 L13 58 L-13 58 Z" fill="#27303c"/><path d="M-4.5 15 L4.5 15 L1.2 38 L-1.2 38 Z" fill="#eef2f5"/><path d="M-1.2 17 L1.2 17 L2 34 L0 37 L-2 34 Z" fill="#2a7aa0"/><path d="M11 17 L16 19 L36 10 L37 16 L17 28 L12 29 Z" fill="#27303c"/><ellipse cx="39.5" cy="11.5" rx="4" ry="3" fill="#e3b594"/><path d="M-13 18 L-17.5 20 L-18.5 50 L-13.5 50 Z" fill="#27303c"/><ellipse cx="-16" cy="52" rx="3" ry="3.4" fill="#e3b594"/><rect x="-27" y="50" width="18" height="14" rx="2" fill="#7e4d2c"/><rect x="-21" y="47.5" width="6" height="3.5" fill="none" stroke="#3a2414" stroke-width="1.2"/><rect x="-2.8" y="11" width="5.6" height="6" fill="#e3b594"/><ellipse cx="0" cy="6" rx="6.6" ry="8" fill="#e3b594"/><path d="M-6.8 5 Q-7 -2.5 0 -2.5 Q7 -2.5 6.8 5 L5.6 2 L-5.6 2 Z" fill="#5a3a22"/></g>
<g font-weight="bold" fill="#dfe4ea" font-size="20"><text x="197" y="299" textLength="127" lengthAdjust="spacingAndGlyphs">ATTRACTION</text><text x="195" y="320" textLength="143" lengthAdjust="spacingAndGlyphs">&amp; AWARENESS</text><text x="271.5" y="428.2" textLength="138" lengthAdjust="spacingAndGlyphs">ENGAGEMENT</text><text x="253.5" y="449.7" textLength="182" lengthAdjust="spacingAndGlyphs">&amp; CONSIDERATION</text><text x="360.4" y="547.8" textLength="130" lengthAdjust="spacingAndGlyphs">CONVERSION</text><text x="385.1" y="569.3" textLength="83" lengthAdjust="spacingAndGlyphs">&amp; LEADS</text></g><g stroke="#8fb3c8" stroke-width="1.2"><line x1="343" y1="298" x2="407" y2="298"/><line x1="442" y1="428" x2="500" y2="428"/><line x1="496" y1="547" x2="520" y2="547"/></g>
<path d="M1151 600 C1153 612 1160 619 1172 621 C1160 623 1153 630 1151 642 C1149 630 1142 623 1130 621 C1142 619 1149 612 1151 600 Z" fill="#9a9ca3"/>
</svg></body></html>
